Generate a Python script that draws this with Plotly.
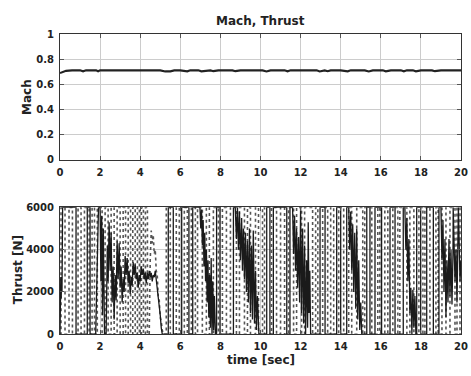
import plotly.graph_objects as go

# ---------------- data ----------------
mach_t = [0.0, 0.15, 0.3, 0.6, 1.0, 1.15, 1.3, 1.8, 1.9, 2.0, 3.0, 4.0, 5.0, 5.25, 5.5, 5.7,
          6.0, 6.35, 6.5, 6.9, 7.05, 7.5, 7.65, 7.9, 8.6, 8.75, 9.0, 10.1, 10.3, 10.5, 11.2,
          11.35, 11.5, 12.8, 12.95, 13.2, 13.35, 13.5, 14.0, 14.35, 14.5, 15.2, 15.4, 15.6,
          16.1, 16.25, 16.5, 17.0, 17.15, 17.3, 17.6, 17.75, 18.0, 18.55, 18.7, 19.0, 20.0]
mach_v = [0.690, 0.700, 0.708, 0.712, 0.712, 0.704, 0.712, 0.712, 0.705, 0.712, 0.712, 0.712,
          0.712, 0.703, 0.704, 0.712, 0.712, 0.704, 0.712, 0.712, 0.704, 0.712, 0.705, 0.712,
          0.712, 0.705, 0.712, 0.712, 0.703, 0.712, 0.712, 0.704, 0.712, 0.712, 0.703, 0.712,
          0.705, 0.712, 0.712, 0.704, 0.712, 0.712, 0.703, 0.712, 0.712, 0.704, 0.712, 0.712,
          0.704, 0.712, 0.712, 0.704, 0.712, 0.712, 0.705, 0.712, 0.712]

thrust_t = [0.00, 0.02, 0.04, 0.06, 0.08, 0.10, 0.13, 0.80, 0.80, 1.36, 1.36, 1.50, 1.50, 1.78,
            1.92, 2.00, 2.04, 2.08, 2.12, 2.16, 2.22, 2.30, 2.36, 2.40, 2.45, 2.50, 2.55, 2.60,
            2.65, 2.70, 2.75, 2.80, 2.85, 2.90, 2.95, 3.00, 3.05, 3.10, 3.15, 3.20, 3.25, 3.30,
            3.35, 3.40, 3.45, 3.50, 3.55, 3.60, 3.65, 3.70, 3.75, 3.80, 3.85, 3.90, 3.95, 4.00,
            4.05, 4.10, 4.15, 4.20, 4.25, 4.30, 4.35, 4.40, 4.45, 4.50, 4.55, 4.60, 4.65, 4.70,
            4.75, 4.80, 4.90, 4.95, 5.00, 5.05, 5.10, 5.40, 5.40, 5.65, 5.65, 6.07, 6.07, 6.43,
            6.43, 6.62, 6.62, 6.98, 7.02, 7.06, 7.10, 7.14, 7.18, 7.22, 7.26, 7.30, 7.34, 7.38,
            7.42, 7.46, 7.50, 7.54, 7.58, 7.62, 7.66, 7.70, 7.75, 7.81, 7.81, 7.98, 7.98, 8.65,
            8.65, 8.74, 8.80, 8.85, 8.90, 8.95, 9.00, 9.06, 9.10, 9.15, 9.20, 9.25, 9.30, 9.35,
            9.40, 9.45, 9.50, 9.55, 9.60, 9.64, 9.70, 9.75, 9.80, 9.85, 9.92, 10.31, 10.31,
            10.47, 10.47, 10.64, 10.64, 11.31, 11.31, 11.47, 11.47, 11.60, 11.65, 11.70, 11.75,
            11.80, 11.85, 11.90, 11.95, 12.00, 12.05, 12.10, 12.15, 12.20, 12.25, 12.30, 12.35,
            12.38, 12.42, 12.46, 12.50, 12.97, 12.97, 13.22, 13.22, 13.80, 13.80, 14.00, 14.00,
            14.30, 14.30, 14.40, 14.45, 14.50, 14.55, 14.60, 14.65, 14.70, 14.75, 14.80, 14.85,
            14.90, 14.95, 15.00, 15.05, 15.30, 15.30, 15.46, 15.46, 15.71, 15.71, 16.04, 16.04,
            16.46, 16.46, 16.71, 16.71, 17.12, 17.12, 17.20, 17.25, 17.30, 17.35, 17.40, 17.45,
            17.50, 17.55, 17.60, 17.65, 17.70, 17.75, 17.79, 17.79, 17.99, 17.99, 18.29, 18.29,
            18.62, 18.62, 18.90, 18.90, 19.00, 19.05, 19.10, 19.15, 19.20, 19.25, 19.30, 19.35,
            19.40, 19.45, 19.50, 19.55, 19.60, 19.61, 19.70, 19.75, 19.80, 19.87, 19.95, 20.00]
thrust_v = [0, 1800, 2700, 1700, 2600, 2000, 6000, 6000, 0, 0, 6000, 6000, 0, 0,
            6000, 6000, 2500, 5600, 900, 5000, 0, 0, 4200, 2500, 5300, 3000, 4800, 1500,
            3200, 700, 2800, 1600, 4400, 2600, 4300, 2200, 3200, 1500, 2600, 2000, 3700, 2800,
            3600, 2400, 3000, 1900, 2700, 2300, 3400, 2800, 3300, 2600, 2900, 2200, 2800, 2500,
            3200, 2800, 3100, 2600, 2900, 2400, 2900, 2600, 3000, 2700, 2900, 2500, 2800, 2700,
            3000, 2600, 1800, 1500, 900, 300, 0, 0, 6000, 6000, 0, 0, 6000, 6000,
            0, 0, 6000, 6000, 5000, 5900, 4200, 5400, 3200, 4800, 2500, 4000, 1500, 3500,
            800, 2800, 300, 3600, 0, 2500, 200, 1800, 0, 0, 6000, 6000, 0, 0,
            6000, 6000, 4500, 6000, 4000, 5800, 3500, 5500, 3000, 5000, 2600, 4800, 2000, 4400,
            1500, 5000, 1000, 4200, 700, 4900, 500, 3000, 200, 1800, 0, 0, 6000,
            6000, 0, 0, 6000, 6000, 0, 0, 6000, 6000, 3800, 5600, 3000,
            5000, 2200, 4600, 1500, 6000, 1000, 5000, 500, 4200, 0, 3500, 300,
            5300, 1000, 3000, 0, 0, 6000, 6000, 0, 0, 6000, 6000, 0,
            0, 6000, 6000, 4000, 5800, 3000, 5200, 2000, 4800, 1200, 5000, 700,
            3500, 200, 1500, 0, 0, 6000, 6000, 0, 0, 6000, 6000, 0,
            0, 6000, 6000, 0, 0, 6000, 6000, 4000, 5500, 2500, 4500, 1000,
            2200, 0, 2100, 300, 1800, 0, 0, 6000, 6000, 0, 0, 6000,
            6000, 0, 0, 6000, 6000, 3500, 5400, 2000, 4500, 800, 3500, 1500,
            4500, 1800, 4000, 1400, 3800, 6000, 2500, 4000, 1500, 6000, 2500, 3500]

# switching instants of the dashed (commanded) thrust, alternating 0 / 6000
cmd_switch_a = [0.05, 0.25, 0.45, 0.62, 0.90, 1.05, 1.22, 1.45, 1.60, 1.72, 1.86, 2.10, 2.25,
                2.40, 2.55, 2.70, 2.85, 3.00, 3.15, 3.27, 3.40, 3.52, 3.63, 3.75, 3.86, 3.96,
                4.06, 4.16, 4.26, 4.36]
cmd_wave_t = [4.45, 4.50, 4.55, 4.60, 4.65, 4.70, 4.75, 4.80, 4.85, 4.90, 4.95, 5.00, 5.05,
              5.10, 5.15, 5.30]
cmd_wave_v = [0, 3500, 4900, 4300, 4700, 3800, 4000, 3000, 2800, 1800, 1600, 800, 600, 200,
              0, 0]
cmd_switch_b = [5.30, 5.50, 5.80, 5.95, 6.20, 6.35, 6.55, 6.75, 6.86, 7.10, 7.30, 7.45, 7.65,
                7.90, 8.10, 8.30, 8.50, 8.80, 8.95, 9.20, 9.35, 9.50, 9.75, 9.90, 10.10, 10.20,
                10.55, 10.80, 11.00, 11.20, 11.40, 11.65, 11.80, 12.05, 12.20, 12.60, 12.75,
                12.86, 13.10, 13.35, 13.50, 13.65, 13.90, 14.15, 14.40, 14.55, 14.80, 15.10,
                15.20, 15.55, 15.85, 15.95, 16.20, 16.35, 16.60, 16.85, 16.95, 17.30, 17.45,
                17.65, 17.90, 18.10, 18.20, 18.45, 18.75, 18.86, 19.05, 19.25, 19.45, 19.70,
                19.80, 19.95]

x_ticks = [0, 2, 4, 6, 8, 10, 12, 14, 16, 18, 20]
mach_ticks = [0, 0.2, 0.4, 0.6, 0.8, 1]
mach_tick_text = ["0", "0.2", "0.4", "0.6", "0.8", "1"]
thrust_ticks = [0, 2000, 4000, 6000]

# ---------------- build dashed step path ----------------
def steps(times, start_level):
    xs, ys = [], []
    level = start_level
    for t in times:
        xs += [t, t]
        nxt = 6000 if level == 0 else 0
        ys += [level, nxt]
        level = nxt
    return xs, ys, level

cx1, cy1, lev = steps(cmd_switch_a, 0)
cx2, cy2, lev2 = steps(cmd_switch_b, 0)
cmd_x = [0.0] + cx1 + cmd_wave_t + cx2 + [20.0]
cmd_y = [0] + cy1 + cmd_wave_v + cy2 + [lev2]

# ---------------- figure ----------------
W, H = 471, 376
L, R = 60, 461
fig = go.Figure()

fig.add_trace(go.Scatter(x=mach_t, y=mach_v, mode="lines",
                         line=dict(color="#222222", width=2.2), xaxis="x", yaxis="y",
                         showlegend=False, hoverinfo="skip"))
fig.add_trace(go.Scatter(x=cmd_x, y=cmd_y, mode="lines",
                         line=dict(color="#555555", width=1.6, dash="3px,3px"),
                         xaxis="x2", yaxis="y2", showlegend=False, hoverinfo="skip"))
fig.add_trace(go.Scatter(x=thrust_t, y=thrust_v, mode="lines",
                         line=dict(color="#1a1a1a", width=1.3),
                         xaxis="x2", yaxis="y2", showlegend=False, hoverinfo="skip"))

tickfont = dict(family="DejaVu Sans", size=10, color="#222222", weight="bold")
axis_common = dict(showline=True, linecolor="#333333", linewidth=1, mirror="ticks",
                   ticks="inside", ticklen=4, tickcolor="#555555",
                   showgrid=True, gridcolor="#cccccc", gridwidth=1, zeroline=False,
                   tickfont=tickfont, ticklabelstandoff=3)

def ydom(top_px, bot_px):
    return [1 - bot_px / H, 1 - top_px / H]

fig.update_layout(
    width=W, height=H,
    margin=dict(l=L, r=W - R, t=0, b=0),
    paper_bgcolor="white", plot_bgcolor="white",
    xaxis=dict(domain=[0, 1], range=[0, 20], tickvals=x_ticks, anchor="y", **axis_common),
    yaxis=dict(domain=ydom(29, 159), range=[0, 1], tickvals=mach_ticks,
               ticktext=mach_tick_text, anchor="x", **axis_common),
    xaxis2=dict(domain=[0, 1], range=[0, 20], tickvals=x_ticks, anchor="y2", **axis_common),
    yaxis2=dict(domain=ydom(208, 339), range=[0, 6000], tickvals=thrust_ticks,
                anchor="x2", **axis_common),
)

labfont = dict(family="DejaVu Sans", size=12, color="#222222", weight="bold")
pw = R - L
fig.add_annotation(text="Mach, Thrust", xref="paper", yref="paper",
                   x=0.5, y=1 - 15 / H, showarrow=False, font=labfont,
                   xanchor="center", yanchor="middle")
fig.add_annotation(text="Mach", xref="paper", yref="paper",
                   x=(27 - L) / pw, y=1 - 94 / H, showarrow=False, font=labfont,
                   textangle=-90, xanchor="center", yanchor="middle")
fig.add_annotation(text="Thrust [N]", xref="paper", yref="paper",
                   x=(18 - L) / pw, y=1 - 273 / H, showarrow=False, font=labfont,
                   textangle=-90, xanchor="center", yanchor="middle")
fig.add_annotation(text="time [sec]", xref="paper", yref="paper",
                   x=0.5, y=1 - 366 / H, showarrow=False, font=labfont,
                   xanchor="center", yanchor="middle")

fig.write_html("out.html")
